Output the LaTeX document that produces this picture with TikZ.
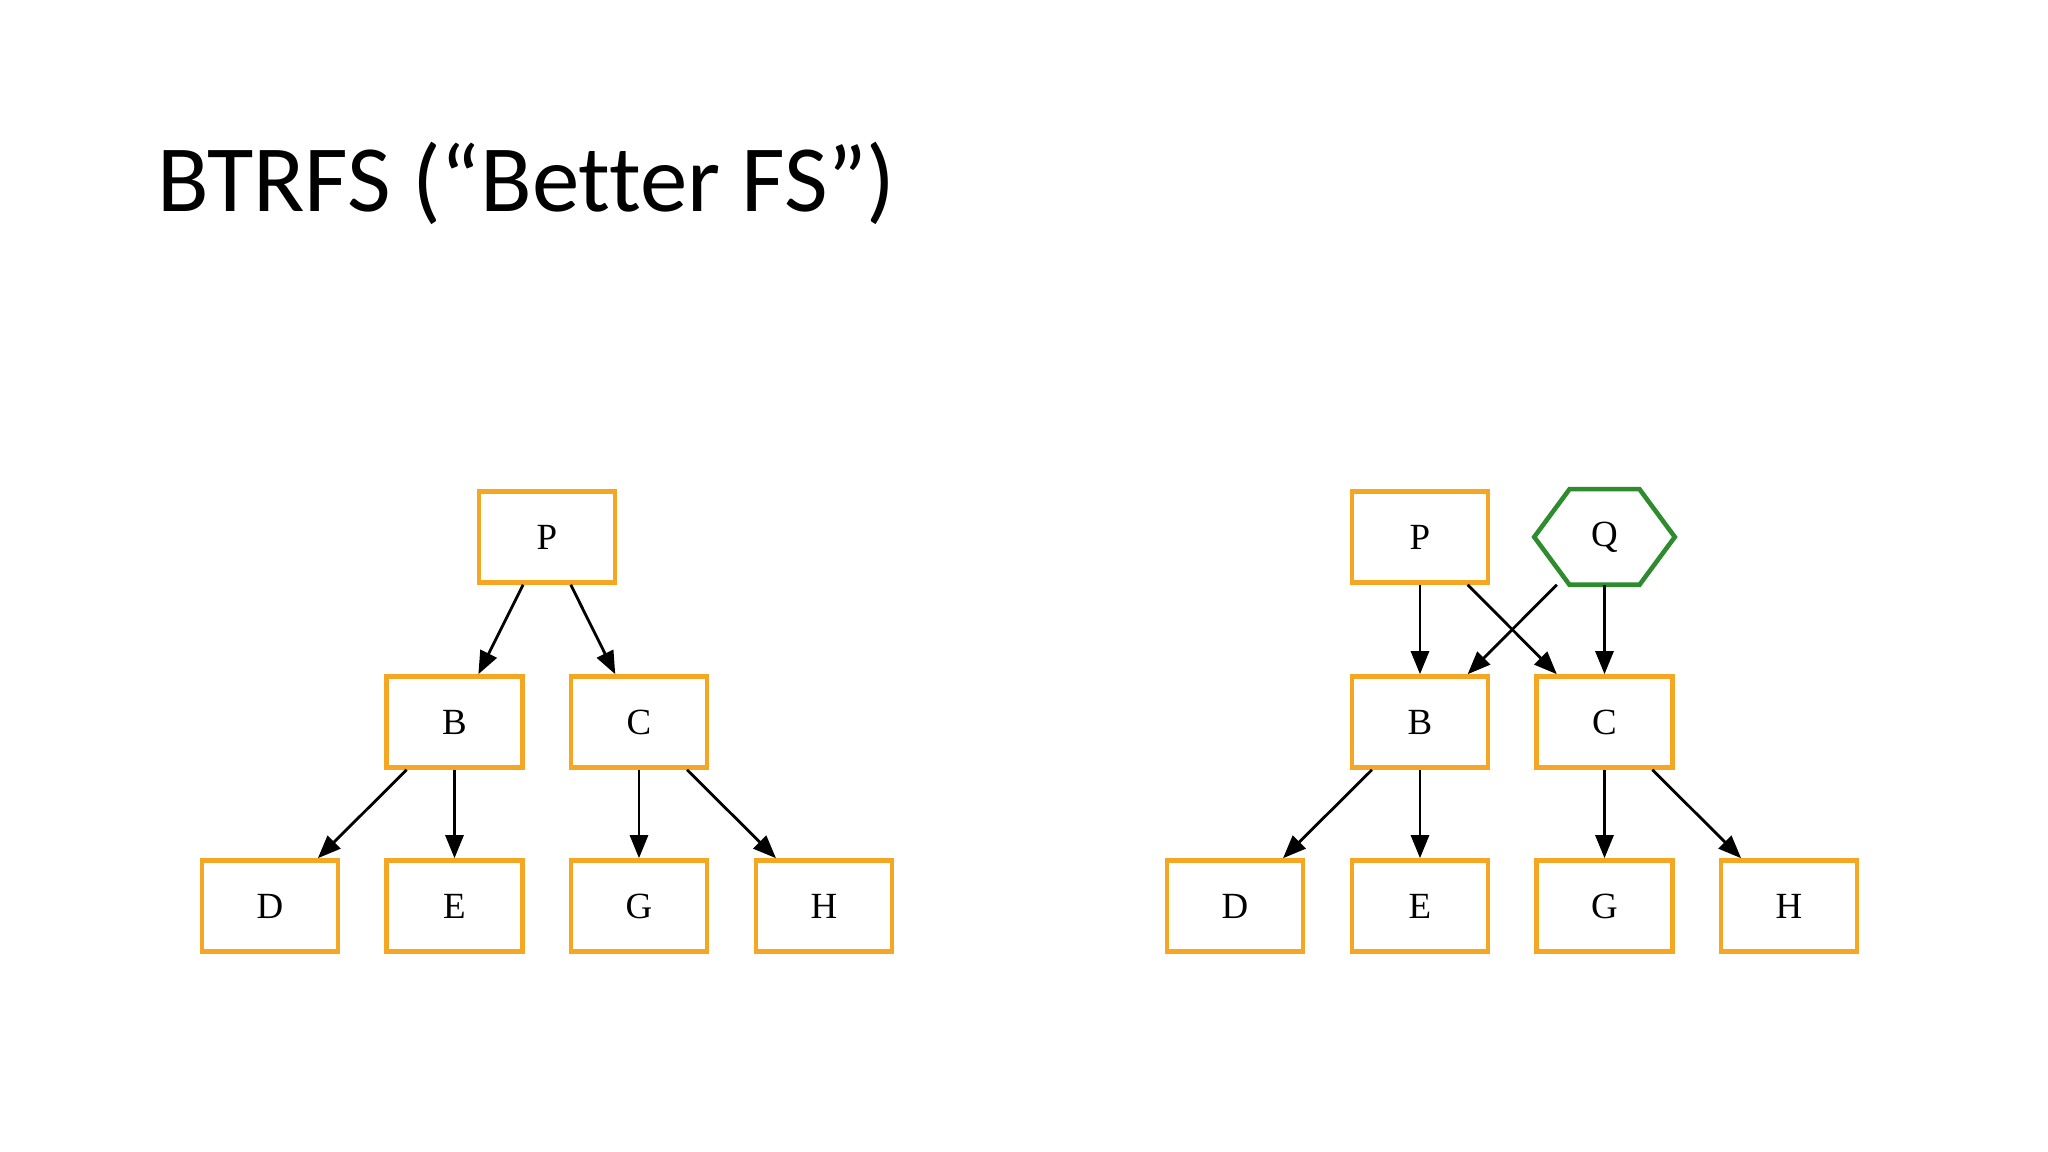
\documentclass[tikz,border=0pt]{standalone}
\usepackage{fontspec}
\setmainfont{Liberation Serif}
\newfontfamily\titlefont[Ligatures=NoCommon]{Carlito}
\usetikzlibrary{arrows.meta}
\definecolor{boxorange}{HTML}{F5A623}
\definecolor{hexgreen}{HTML}{2E8B2E}
\begin{document}
\begin{tikzpicture}[>={Triangle[length=2.3mm,width=1.8mm]}]
   \useasboundingbox[fill=white] (0,0) rectangle (20.48,-11.52);
   \node[anchor=base west, inner sep=0pt, font=\titlefont\fontsize{27}{32}\selectfont] (title) at (1.57,-2.12) {BTRFS (“Better FS”)};

   \begin{scope}[every node/.style={draw=boxorange, line width=1.3pt, minimum width=1.36cm, minimum height=0.91cm, inner sep=0pt, font=\fontsize{10.5}{12}\selectfont}]
    % before
    \node (lp) at (5.47,-5.37) {P};
    \node (lb) at (4.545,-7.22) {B};
    \node (lc) at (6.39,-7.22) {C};
    \node (ld) at (2.70,-9.06) {D};
    \node (le) at (4.545,-9.06) {E};
    \node (lg) at (6.39,-9.06) {G};
    \node (lh) at (8.24,-9.06) {H};

    % after
    \node (rp) at (14.20,-5.37) {P};
    \node[draw=none] (rq) at (16.045,-5.37) {Q};
    \node (rb) at (14.20,-7.22) {B};
    \node (rc) at (16.045,-7.22) {C};
    \node (rd) at (12.35,-9.06) {D};
    \node (re) at (14.20,-9.06) {E};
    \node (rg) at (16.045,-9.06) {G};
    \node (rh) at (17.89,-9.06) {H};
   \end{scope}
   \draw[hexgreen, line width=1.3pt] (rq.west) -- ([xshift=-0.35cm]rq.north) -- ([xshift=0.35cm]rq.north)
      -- (rq.east) -- ([xshift=0.35cm]rq.south) -- ([xshift=-0.35cm]rq.south) -- cycle;

   \begin{scope}[every edge/.style={draw=black, line width=0.8pt, ->}]
    \draw  (lp) edge (lb);
    \draw  (lp) edge (lc);
    \draw  (lb) edge (ld);
    \draw  (lb) edge (le);
    \draw  (lc) edge (lg);
    \draw  (lc) edge (lh);

    \draw  (rp) edge (rb);
    \draw  (rp) edge (rc);
    \draw  (rq) edge (rb);
    \draw  (rq) edge (rc);
    \draw  (rb) edge (rd);
    \draw  (rb) edge (re);
    \draw  (rc) edge (rg);
    \draw  (rc) edge (rh);
   \end{scope}
\end{tikzpicture}
\end{document}
